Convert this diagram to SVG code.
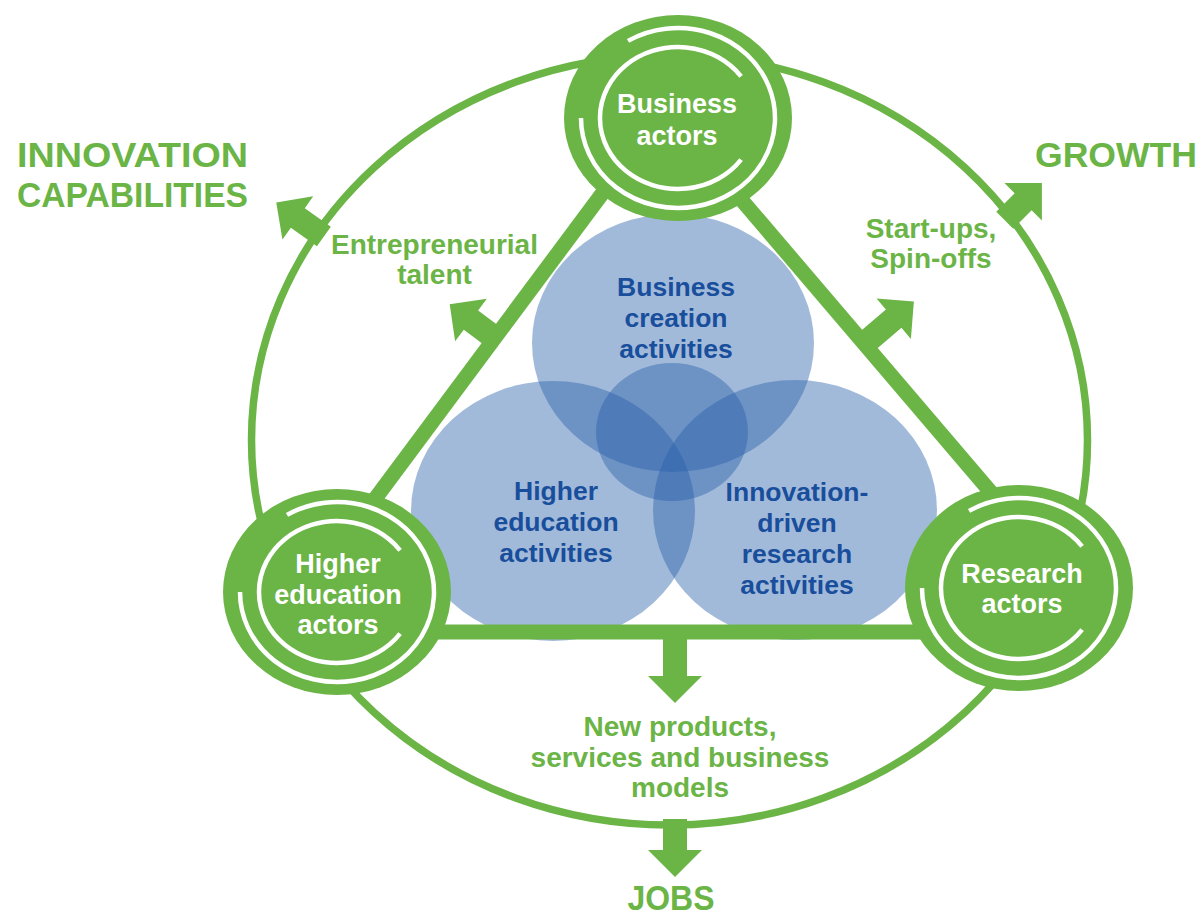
<svg xmlns="http://www.w3.org/2000/svg" xmlns:xlink="http://www.w3.org/1999/xlink" width="1202" height="917" viewBox="0 0 1202 917">
  <style>
    .ring { fill: none; stroke: #6bb446; stroke-width: 7.5; }
    .tri { fill: none; stroke: #6bb446; stroke-width: 15; stroke-linecap: butt; }
    .arrow { fill: #6bb446; }
    .venn { fill: rgb(40,95,170); fill-opacity: 0.43; }
    .node { fill: #6bb446; }
    .arc { fill: none; stroke: #ffffff; stroke-width: 4.5; }
    .ntext { font-family: "Liberation Sans", Arial, sans-serif; font-weight: bold; font-size: 27px; fill: #ffffff; text-anchor: middle; }
    .vtext { font-family: "Liberation Sans", Arial, sans-serif; font-weight: bold; font-size: 26.5px; fill: #184e9b; text-anchor: middle; }
    .gtext { font-family: "Liberation Sans", Arial, sans-serif; font-weight: bold; font-size: 28px; fill: #6bb446; text-anchor: middle; }
    .title { font-family: "Liberation Sans", Arial, sans-serif; font-weight: bold; font-size: 35px; fill: #6bb446; }
  </style>
  <defs>
    <g id="arcs">
      <path class="arc" d="M63.1,41.7 A78,71 0 1 1 63.1,-41.7"/>
      <path class="arc" d="M-50,-77.1 A97,90 0 1 1 -97,0"/>
    </g>
  </defs>

  <g id="connectors">
    <ellipse class="ring" cx="669.5" cy="440" rx="418" ry="385"/>
  </g>

  <g id="venn">
    <ellipse class="venn" cx="673" cy="343" rx="141" ry="129"/>
    <ellipse class="venn" cx="553" cy="511" rx="142" ry="130"/>
    <ellipse class="venn" cx="795" cy="510" rx="142" ry="130"/>
    <ellipse class="venn" cx="672" cy="432" rx="76" ry="69"/>
  </g>

  <g id="links">
    <line class="tri" x1="664.6" y1="109.7" x2="276" y2="632"/>
    <line class="tri" x1="664.6" y1="109.7" x2="1105" y2="626"/>
    <line class="tri" x1="276" y1="632" x2="1105" y2="632"/>
    <path class="arrow" transform="translate(495,338) rotate(-143.3)" d="M-6,-12 H30 V-26.5 L56.5,0 L30,26.5 V12 H-6 Z"/>
    <path class="arrow" transform="translate(319,233) rotate(-144.5)" d="M-6,-12 H26 V-26.5 L52.5,0 L26,26.5 V12 H-6 Z"/>
    <path class="arrow" transform="translate(864,344) rotate(-40.4)" d="M-6,-12 H39 V-26.5 L65.5,0 L39,26.5 V12 H-6 Z"/>
    <path class="arrow" transform="translate(1009,216) rotate(-45)" d="M-6,-12 H20 V-26.5 L46.5,0 L20,26.5 V12 H-6 Z"/>
    <path class="arrow" transform="translate(675,632) rotate(90)" d="M-6,-12 H44 V-27 L71,0 L44,27 V12 H-6 Z"/>
    <path class="arrow" transform="translate(675,825) rotate(90)" d="M-6,-12 H25 V-27 L52,0 L25,27 V12 H-6 Z"/>
  </g>

  <g id="node-business">
    <ellipse class="node" cx="678" cy="118" rx="114" ry="103"/>
    <use xlink:href="#arcs" href="#arcs" transform="translate(678,118)"/>
    <text class="ntext" x="677" y="113">Business</text>
    <text class="ntext" x="677" y="145">actors</text>
  </g>

  <g id="node-higher-education">
    <ellipse class="node" cx="337" cy="592" rx="114" ry="103"/>
    <use xlink:href="#arcs" href="#arcs" transform="translate(337,592)"/>
    <text class="ntext" x="338" y="573">Higher</text>
    <text class="ntext" x="338" y="603.5">education</text>
    <text class="ntext" x="338" y="634">actors</text>
  </g>

  <g id="node-research">
    <ellipse class="node" cx="1019" cy="588" rx="114" ry="103"/>
    <use xlink:href="#arcs" href="#arcs" transform="translate(1019,588)"/>
    <text class="ntext" x="1022" y="583">Research</text>
    <text class="ntext" x="1022" y="613">actors</text>
  </g>

  <g id="venn-labels">
    <text class="vtext" x="676" y="296">Business</text>
    <text class="vtext" x="676" y="327">creation</text>
    <text class="vtext" x="676" y="358">activities</text>
    <text class="vtext" x="556" y="500">Higher</text>
    <text class="vtext" x="556" y="531">education</text>
    <text class="vtext" x="556" y="562">activities</text>
    <text class="vtext" x="797" y="501">Innovation-</text>
    <text class="vtext" x="797" y="532">driven</text>
    <text class="vtext" x="797" y="563">research</text>
    <text class="vtext" x="797" y="594">activities</text>
  </g>

  <g id="labels">
    <text class="gtext" x="434.5" y="254">Entrepreneurial</text>
    <text class="gtext" x="434.5" y="284">talent</text>
    <text class="gtext" x="931" y="238">Start-ups,</text>
    <text class="gtext" x="931" y="268">Spin-offs</text>
    <text class="gtext" x="680" y="736">New products,</text>
    <text class="gtext" x="680" y="767">services and business</text>
    <text class="gtext" x="680" y="797">models</text>
    <text class="title" x="17" y="167" textLength="231" lengthAdjust="spacingAndGlyphs">INNOVATION</text>
    <text class="title" x="17" y="207" textLength="231" lengthAdjust="spacingAndGlyphs">CAPABILITIES</text>
    <text class="title" x="1035" y="167" textLength="162" lengthAdjust="spacingAndGlyphs">GROWTH</text>
    <text class="title" x="671" y="910" text-anchor="middle" textLength="87" lengthAdjust="spacingAndGlyphs">JOBS</text>
  </g>
</svg>
